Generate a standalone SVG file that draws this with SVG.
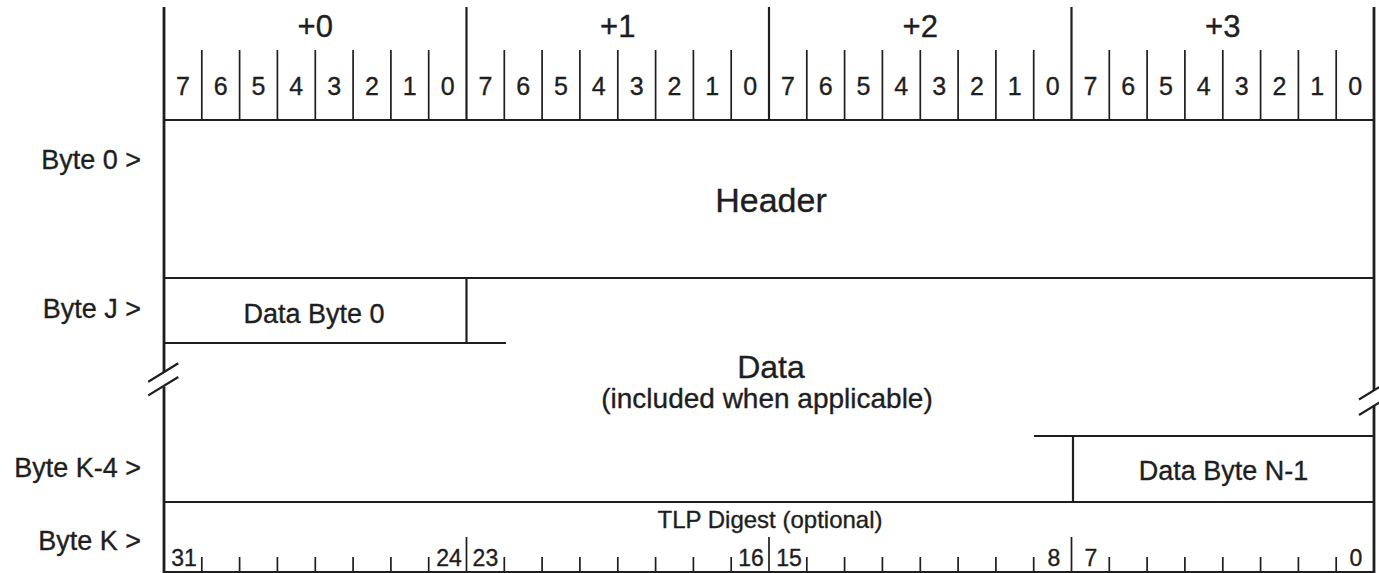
<svg xmlns="http://www.w3.org/2000/svg" width="1379" height="573" viewBox="0 0 1379 573">
<style>
.t{font-family:"Liberation Sans",Arial,sans-serif;fill:#1e1e1e;stroke:#1e1e1e;stroke-width:0.35;}
.ln{stroke:#1e1e1e;stroke-width:2.2;fill:none;}
.bd{stroke:#1e1e1e;stroke-width:2.8;fill:none;}
.th{stroke:#1e1e1e;stroke-width:1.7;fill:none;}
.bytehd{font-size:31px;text-anchor:middle;}
.bit{font-size:25px;text-anchor:middle;}
.lbl{font-size:27px;text-anchor:end;}
.fld{font-size:27px;text-anchor:middle;}
.num{font-size:23px;text-anchor:middle;}
</style>
<rect width="1379" height="573" fill="#fff"/>

<g id="ruler">
  <text class="t bytehd" x="315.3" y="37">+0</text>
  <text class="t bytehd" x="617.8" y="37">+1</text>
  <text class="t bytehd" x="920.3" y="37">+2</text>
  <text class="t bytehd" x="1222.8" y="37">+3</text>
  <g class="t bit">
    <text x="182.9" y="95">7</text><text x="220.7" y="95">6</text><text x="258.5" y="95">5</text><text x="296.3" y="95">4</text>
    <text x="334.2" y="95">3</text><text x="372.0" y="95">2</text><text x="409.8" y="95">1</text><text x="447.6" y="95">0</text>
    <text x="485.4" y="95">7</text><text x="523.2" y="95">6</text><text x="561.0" y="95">5</text><text x="598.8" y="95">4</text>
    <text x="636.7" y="95">3</text><text x="674.5" y="95">2</text><text x="712.3" y="95">1</text><text x="750.1" y="95">0</text>
    <text x="787.9" y="95">7</text><text x="825.7" y="95">6</text><text x="863.5" y="95">5</text><text x="901.3" y="95">4</text>
    <text x="939.2" y="95">3</text><text x="977.0" y="95">2</text><text x="1014.8" y="95">1</text><text x="1052.6" y="95">0</text>
    <text x="1090.4" y="95">7</text><text x="1128.2" y="95">6</text><text x="1166.0" y="95">5</text><text x="1203.8" y="95">4</text>
    <text x="1241.7" y="95">3</text><text x="1279.5" y="95">2</text><text x="1317.3" y="95">1</text><text x="1355.1" y="95">0</text>
  </g>
  <path class="th" d="M201.8 50V120M239.6 50V120M277.4 50V120M315.3 50V120M353.1 50V120M390.9 50V120M428.7 50V120
  M504.3 50V120M542.1 50V120M579.9 50V120M617.8 50V120M655.6 50V120M693.4 50V120M731.2 50V120
  M806.8 50V120M844.6 50V120M882.4 50V120M920.3 50V120M958.1 50V120M995.9 50V120M1033.7 50V120
  M1109.3 50V120M1147.1 50V120M1184.9 50V120M1222.8 50V120M1260.6 50V120M1298.4 50V120M1336.2 50V120"/>
  <path class="ln" d="M466.5 7V120M769 7V120M1071.5 7V120"/>
</g>

<g id="row-labels">
  <text class="t lbl" x="141" y="169">Byte 0 &gt;</text>
  <text class="t lbl" x="141" y="318">Byte J &gt;</text>
  <text class="t lbl" x="141" y="477">Byte K-4 &gt;</text>
  <text class="t lbl" x="141" y="550">Byte K &gt;</text>
</g>

<g id="frame">
  <path class="bd" d="M164 7V372.5M164 386.7V573"/>
  <path class="bd" d="M1374 7V390.3M1374 405.8V573"/>
  <path class="ln" d="M164 120H1374M164 278H1374M164 502H1374M164 572H1374"/>
</g>

<g id="header">
  <text class="t" x="771" y="212" font-size="34" text-anchor="middle">Header</text>
</g>

<g id="data">
  <text class="t" x="771" y="378" font-size="32" text-anchor="middle">Data</text>
  <text class="t" x="767" y="408" font-size="28" text-anchor="middle">(included when applicable)</text>
</g>

<g id="data-byte-0">
  <path class="ln" d="M164 343H506M466.5 278V343"/>
  <text class="t fld" x="314" y="323">Data Byte 0</text>
</g>

<g id="data-byte-n-1">
  <path class="ln" d="M1034 436H1374M1073 436V502"/>
  <text class="t fld" x="1223.5" y="480">Data Byte N-1</text>
</g>

<g id="tlp-digest">
  <text class="t" x="770" y="528" font-size="24" text-anchor="middle">TLP Digest (optional)</text>
  <path class="th" d="M201.8 557V572M239.6 557V572M277.4 557V572M315.3 557V572M353.1 557V572M390.9 557V572M428.7 557V572
  M504.3 557V572M542.1 557V572M579.9 557V572M617.8 557V572M655.6 557V572M693.4 557V572M731.2 557V572
  M806.8 557V572M844.6 557V572M882.4 557V572M920.3 557V572M958.1 557V572M995.9 557V572M1033.7 557V572
  M1109.3 557V572M1147.1 557V572M1184.9 557V572M1222.8 557V572M1260.6 557V572M1298.4 557V572M1336.2 557V572"/>
  <path class="th" d="M466.5 537V572M769 537V572M1071.5 537V572"/>
  <g class="t num">
    <text x="184" y="566">31</text>
    <text x="449" y="566">24</text>
    <text x="485.4" y="566">23</text>
    <text x="751" y="566">16</text>
    <text x="789" y="566">15</text>
    <text x="1054" y="566">8</text>
    <text x="1091" y="566">7</text>
    <text x="1356" y="566">0</text>
  </g>
</g>

<g id="breaks">
  <path class="ln" d="M148.3 381.7L178.3 363.3M148.3 395.4L178.3 377"/>
  <path class="ln" d="M1359 399.5L1389 381.1M1359 415L1389 396.6"/>
</g>
</svg>
